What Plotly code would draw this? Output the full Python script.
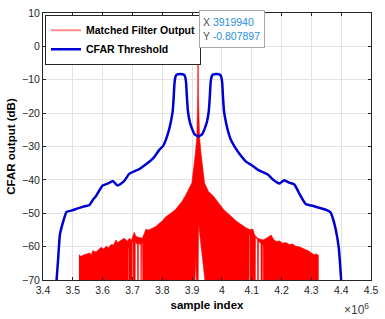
import plotly.graph_objects as go

# ---------------- data (x in units of 1e6 samples) ----------------
# Matched filter output: upper envelope of the dense red trace
mf_top_x = [3.5206, 3.527, 3.534, 3.545, 3.556, 3.562, 3.567, 3.578, 3.586, 3.595,
            3.603, 3.612, 3.620, 3.628, 3.636, 3.645, 3.650, 3.656, 3.664, 3.672,
            3.683, 3.690, 3.697, 3.706, 3.712, 3.720, 3.733, 3.740, 3.745, 3.755,
            3.766, 3.778, 3.789, 3.800, 3.811, 3.822, 3.833, 3.845, 3.855, 3.866,
            3.877, 3.890, 3.8993, 3.911, 3.9162, 3.9188, 3.91994, 3.9212, 3.9248, 3.930,
            3.9417, 3.955, 3.971, 3.983, 3.994, 4.005, 4.016, 4.027, 4.038, 4.049,
            4.060, 4.071, 4.082, 4.093, 4.104, 4.110, 4.120, 4.130, 4.138, 4.149,
            4.158, 4.165, 4.173, 4.182, 4.193, 4.204, 4.215, 4.226, 4.237, 4.248,
            4.259, 4.270, 4.281, 4.293, 4.300, 4.309, 4.316, 4.3236]
mf_top_y = [-62.4, -62.9, -62.6, -62.3, -61.9, -62.4, -61.2, -61.6, -60.8, -60.2,
            -60.7, -59.9, -60.3, -59.4, -59.5, -58.0, -58.8, -58.5, -58.0, -57.5,
            -58.3, -57.5, -58.0, -55.7, -57.0, -57.2, -57.5, -56.0, -54.8, -55.0,
            -54.6, -54.0, -53.1, -52.3, -51.1, -50.5, -49.7, -48.8, -47.7, -46.5,
            -44.8, -42.5, -40.9, -32.1, -27.1, -15.0, -0.81, -15.0, -27.1, -32.1,
            -40.9, -43.5, -44.8, -46.3, -47.7, -48.8, -49.7, -50.7, -51.6, -52.4,
            -53.1, -53.8, -54.4, -54.9, -54.8, -56.5, -57.5, -57.8, -58.0, -57.5,
            -57.0, -56.5, -57.8, -58.5, -58.3, -59.0, -58.8, -59.4, -59.2, -59.9,
            -60.0, -60.4, -61.0, -61.4, -61.9, -62.4, -62.2, -62.6]
# lower boundary of the red area (white notches where the trace thins out)
mf_bot_x = [3.5206, 3.6855, 3.6860, 3.6880, 3.6885, 3.6985, 3.6990, 3.7020, 3.7025, 3.7090,
            3.7095, 3.7170, 3.7175, 3.7195, 3.7200, 3.7280, 3.7285, 3.7305, 3.7310, 3.7340,
            3.7345, 3.9085, 3.9085, 3.9115, 3.9145, 3.9145, 3.9205, 3.9205, 3.9215, 3.9430,
            3.9430, 4.0910, 4.0915, 4.0940, 4.0945, 4.1120, 4.1125, 4.1195, 4.1200, 4.1220,
            4.1225, 4.1310, 4.1315, 4.1355, 4.1360, 4.1385, 4.1390, 4.3236]
mf_bot_y = [-75, -75, -60.5, -60.5, -75, -75, -58.5, -58.5, -75, -75,
            -58.5, -59.5, -75, -75, -59, -59.5, -75, -75, -59, -59,
            -75, -75, -70, -63, -70, -75, -75, -70, -53, -70,
            -75, -75, -56.5, -56.5, -75, -75, -57, -58, -75, -75,
            -58.5, -59, -75, -75, -59.5, -59.5, -75, -75]

# CFAR threshold
cfar_x = [3.4455, 3.451, 3.4565, 3.4674, 3.4787, 3.495, 3.512, 3.535, 3.556, 3.567,
          3.578, 3.600, 3.620, 3.634, 3.650, 3.672, 3.689, 3.722, 3.750, 3.770,
          3.790, 3.803, 3.812, 3.822, 3.829, 3.835, 3.8385, 3.841, 3.844, 3.848,
          3.8605, 3.873, 3.877, 3.880, 3.8825, 3.886, 3.892, 3.899, 3.908, 3.921,
          3.934, 3.943, 3.950, 3.956, 3.9595, 3.962, 3.965, 3.969, 3.9815, 3.994,
          3.998, 4.001, 4.0035, 4.007, 4.013, 4.020, 4.030, 4.043, 4.060, 4.082,
          4.100, 4.121, 4.154, 4.171, 4.193, 4.209, 4.225, 4.243, 4.262, 4.281,
          4.309, 4.331, 4.350, 4.364, 4.372, 4.381, 4.392, 4.400]
cfar_y = [-70.0, -63.4, -56.5, -52.6, -49.6, -49.2, -48.7, -48.0, -47.5, -46.0,
          -44.8, -41.7, -41.0, -40.3, -41.7, -40.4, -38.2, -36.8, -35.0, -33.5,
          -31.0, -29.8, -28.0, -25.2, -22.5, -19.4, -15.0, -11.0, -9.2, -8.5,
          -8.3, -8.5, -9.2, -11.0, -15.0, -19.4, -22.5, -24.5, -26.3, -27.0,
          -26.3, -24.5, -22.5, -19.4, -15.0, -11.0, -9.2, -8.5, -8.3, -8.5,
          -9.2, -11.0, -15.0, -19.4, -22.5, -25.2, -28.0, -30.1, -32.3, -34.6,
          -35.6, -37.0, -38.4, -39.9, -41.1, -40.1, -40.8, -41.4, -44.5, -47.2,
          -47.9, -48.5, -49.0, -49.7, -51.5, -54.6, -60.4, -70.0]

peak_x = 3.919940
peak_y = -0.807897

x_tickvals = [3.4, 3.5, 3.6, 3.7, 3.8, 3.9, 4.0, 4.1, 4.2, 4.3, 4.4, 4.5]
x_ticktext = ["3.4", "3.5", "3.6", "3.7", "3.8", "3.9", "4", "4.1", "4.2", "4.3", "4.4", "4.5"]
y_tickvals = [10, 0, -10, -20, -30, -40, -50, -60, -70]

# ---------------- figure ----------------
FONT = "Liberation Sans, Arial, sans-serif"
RED = "#ff0000"
BLUE = "#0000d2"

poly_x = mf_top_x + mf_bot_x[::-1]
poly_y = mf_top_y + mf_bot_y[::-1]

fig = go.Figure()
fig.add_trace(go.Scatter(x=poly_x, y=poly_y, mode="lines", fill="toself",
                         fillcolor=RED, line=dict(color=RED, width=0.6),
                         showlegend=False, hoverinfo="skip"))
fig.add_trace(go.Scatter(x=[None], y=[None], mode="lines", name="<b>Matched Filter Output</b>",
                         line=dict(color="rgba(255,0,0,0.45)", width=2)))
fig.add_trace(go.Scatter(x=cfar_x, y=cfar_y, mode="lines", name="<b>CFAR Threshold</b>",
                         line=dict(color=BLUE, width=2.5, shape="spline", smoothing=0.4)))
fig.add_trace(go.Scatter(x=[peak_x], y=[peak_y], mode="markers", showlegend=False,
                         marker=dict(color="black", size=4)))

tip = ("X <span style='color:#2a8ee0'>%d</span><br>Y <span style='color:#2a8ee0'>%.6f</span>"
       % (round(peak_x * 1e6), peak_y))
fig.add_annotation(x=peak_x, y=peak_y, xref="x", yref="y", text=tip, showarrow=False,
                   xanchor="left", yanchor="bottom", align="left", xshift=1, yshift=1,
                   bgcolor="white", bordercolor="#a8a8a8", borderwidth=1, borderpad=3,
                   width=58, height=30, font=dict(family=FONT, size=10.5, color="#505050"))
fig.add_annotation(x=1, y=-0.07, xref="paper", yref="paper", text="\u00d710<sup>6</sup>",
                   showarrow=False, xanchor="right", yanchor="top",
                   font=dict(family=FONT, size=12, color="#404040"))

axis_common = dict(showline=True, linecolor="#262626", linewidth=1, mirror="ticks",
                   ticks="inside", ticklen=3, tickcolor="#262626",
                   showgrid=True, gridcolor="#e3e3e3", gridwidth=1, zeroline=False,
                   tickfont=dict(family=FONT, size=10.5, color="#262626"))

fig.update_xaxes(range=[3.4, 4.5], tickvals=x_tickvals, ticktext=x_ticktext,
                 title=dict(text="<b>sample index</b>", standoff=6,
                            font=dict(family=FONT, size=11.5, color="#000000")),
                 **axis_common)
fig.update_yaxes(range=[-70, 10], tickvals=y_tickvals,
                 title=dict(text="<b>CFAR output (dB)</b>", standoff=4,
                            font=dict(family=FONT, size=11.5, color="#000000")),
                 **axis_common)

fig.update_layout(width=385, height=319, margin=dict(l=43, r=10, t=7, b=39),
                  paper_bgcolor="white", plot_bgcolor="white",
                  legend=dict(x=0.006, y=0.993, xanchor="left", yanchor="top",
                              bgcolor="white", bordercolor="#262626", borderwidth=1,
                              itemwidth=30, tracegroupgap=0,
                              font=dict(family=FONT, size=10.5, color="#000000")),
                  font=dict(family=FONT))

fig.write_html("out.html")
